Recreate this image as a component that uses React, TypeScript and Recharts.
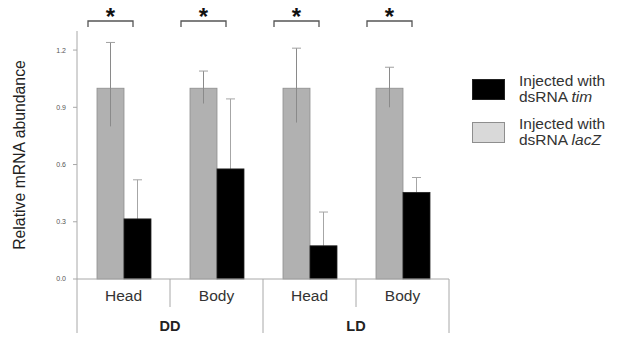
import React from "react";
import { Bar, BarChart, XAxis, YAxis } from "recharts";

const categories = ["Head", "Body", "Head", "Body"];
const groups = ["DD", "DD", "LD", "LD"];
const lacZ = [1.0, 1.0, 1.0, 1.0];
const lacZErrUp = [0.24, 0.09, 0.21, 0.11];
const lacZErrDown = [0.2, 0.08, 0.18, 0.1];
const tim = [0.315, 0.577, 0.174, 0.454];
const timErrUp = [0.205, 0.367, 0.177, 0.078];
const stars = ["*", "*", "*", "*"];
const yTicks = [0, 0.3, 0.6, 0.9, 1.2];

const FONT = "'Liberation Sans', Arial, sans-serif";
const AXIS = "#a8a8a8";
const Y_MAX = 1.3;

const data = categories.map((c, i) => ({
  id: `${groups[i]}-${c}`,
  lacZ: lacZ[i],
  lacZUp: lacZErrUp[i],
  lacZDown: lacZErrDown[i],
  tim: tim[i],
  timUp: timErrUp[i],
  star: stars[i],
}));

function LacZShape(props: any) {
  const { x, y, width, height, payload } = props;
  const ppu = height / payload.lacZ;
  const cx = x + width / 2;
  const top = y - payload.lacZUp * ppu;
  const bottom = y + payload.lacZDown * ppu;
  const plotTop = y + height - Y_MAX * ppu;
  const by = plotTop - 10;
  return (
    <g>
      <rect x={x} y={y} width={width} height={height} fill="#b1b1b1" stroke="#8e8e8e" strokeWidth={0.8} />
      <line x1={cx} x2={cx} y1={top} y2={bottom} stroke="#8a8a8a" strokeWidth={1} />
      <line x1={cx - 4.5} x2={cx + 4.5} y1={top} y2={top} stroke="#a0a0a0" strokeWidth={1} />
      <path
        d={`M${cx - 22.5},${by + 6} L${cx - 22.5},${by} L${cx + 22.5},${by} L${cx + 22.5},${by + 6}`}
        fill="none"
        stroke="#555"
        strokeWidth={1.3}
      />
      <text x={cx} y={by + 4} textAnchor="middle" fontFamily={FONT} fontWeight="bold" fontSize={24} fill="#111">
        {payload.star}
      </text>
    </g>
  );
}

function TimShape(props: any) {
  const { x, y, width, height, payload } = props;
  const ppu = height / payload.tim;
  const cx = x + width / 2;
  const top = y - payload.timUp * ppu;
  return (
    <g>
      <line x1={cx} x2={cx} y1={top} y2={y} stroke="#a6a6a6" strokeWidth={1} />
      <line x1={cx - 4.5} x2={cx + 4.5} y1={top} y2={top} stroke="#a6a6a6" strokeWidth={1} />
      <rect x={x} y={y} width={width} height={height} fill="#000" stroke="#222" strokeWidth={0.8} />
    </g>
  );
}

function CategoryTick(props: any) {
  const { x, y, payload, index } = props;
  const half = (payload && payload.offset) || 46.5;
  const right = x + half;
  const endOfGroup = index % 2 === 1;
  return (
    <g>
      {index === 0 && <line x1={x - half} x2={x - half} y1={y} y2={y + 54} stroke={AXIS} />}
      <line x1={right} x2={right} y1={y} y2={y + (endOfGroup ? 54 : 28)} stroke={AXIS} />
      <text x={x} y={y + 22} textAnchor="middle" fontFamily={FONT} fontSize={15.5} fill="#333">
        {categories[index]}
      </text>
      {!endOfGroup && (
        <text x={right} y={y + 52} textAnchor="middle" fontFamily={FONT} fontSize={14.5} fontWeight="bold" fill="#222">
          {groups[index]}
        </text>
      )}
    </g>
  );
}

function LegendBox() {
  const item = (fill: string, stroke: string, top: number, name: string) => (
    <div style={{ position: "absolute", left: 472, top, display: "flex", alignItems: "center" }}>
      <div style={{ width: 33, height: 21, background: fill, border: `1px solid ${stroke}`, boxSizing: "border-box" }} />
      <div style={{ marginLeft: 14, fontFamily: FONT, fontSize: 15.5, lineHeight: "16px", color: "#333" }}>
        Injected with
        <br />
        dsRNA <i>{name}</i>
      </div>
    </div>
  );
  return (
    <>
      {item("#000", "#222", 73, "tim")}
      {item("#d9d9d9", "#8e8e8e", 116, "lacZ")}
    </>
  );
}

export default function App() {
  return (
    <div style={{ position: "absolute", left: 0, top: 0, width: 619, height: 339, background: "#fff" }}>
      <BarChart
        width={619}
        height={339}
        data={data}
        margin={{ top: 31, right: 170, bottom: 6, left: 0 }}
        barSize={27}
        barGap={0}
      >
        <XAxis
          dataKey="id"
          height={54}
          axisLine={{ stroke: AXIS }}
          tickLine={false}
          tickSize={0}
          tickMargin={0}
          interval={0}
          tick={<CategoryTick />}
        />
        <YAxis
          width={77}
          domain={[0, Y_MAX]}
          ticks={yTicks}
          tickFormatter={(v: number) => v.toFixed(1)}
          axisLine={{ stroke: AXIS }}
          tickLine={{ stroke: AXIS }}
          tickSize={4}
          tickMargin={7}
          tick={{ fontSize: 7, fill: "#555", fontFamily: FONT }}
          label={{
            value: "Relative mRNA abundance",
            angle: -90,
            position: "insideLeft",
            offset: 19,
            style: { fontFamily: FONT, fontSize: 15.8, fill: "#222", textAnchor: "middle" },
          }}
        />
        <Bar dataKey="lacZ" shape={<LacZShape />} isAnimationActive={false} />
        <Bar dataKey="tim" shape={<TimShape />} isAnimationActive={false} />
      </BarChart>
      <LegendBox />
    </div>
  );
}
